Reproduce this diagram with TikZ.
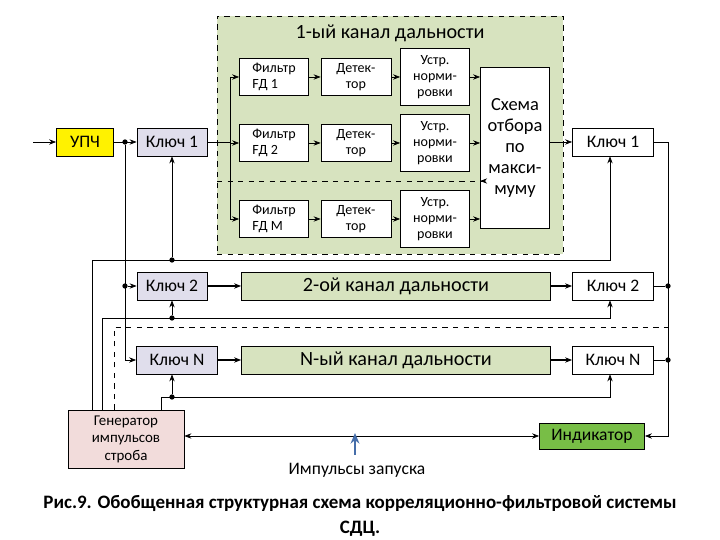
\documentclass[tikz,border=0pt]{standalone}
\usepackage{fontspec}
\setmainfont{Carlito}
\usetikzlibrary{arrows.meta, positioning, calc}
\definecolor{chan_green}{RGB}{215, 227, 191}
\definecolor{key_lilac}{RGB}{224, 222, 236}
\definecolor{gen_pink}{RGB}{242, 220, 219}
\definecolor{ind_green}{RGB}{120, 190, 70}
\definecolor{start_blue}{RGB}{70, 110, 170}

\begin{document}
\begin{tikzpicture}[x=0.02cm, y=-0.02cm,
    % Node styles
    blk/.style={
        rectangle,
        draw=black,
        fill=#1,
        thin,
        inner sep=1pt,
        align=center,
        font=\fontsize{10}{11}\selectfont
    },
    small/.style={
        blk=white,
        font=\fontsize{8}{9}\selectfont
    },
    arrow/.style={
        -{Stealth[length=4pt,width=3pt]},
        thin,
        #1
    },
    dot/.style={
        circle, fill=black, inner sep=0pt, minimum size=3pt
    }
]
\useasboundingbox (0,0) rectangle (720,540);

% first range channel
\node[draw, dashed, fill=chan_green, minimum width=6.92cm, minimum height=4.76cm] (chan1) at (390,135) {};
\node[font=\fontsize{11.5}{12}\selectfont] (title1) at (390,33) {1-ый канал дальности};
\draw[dashed] (217,181) coordinate (dl) -- (481,181) coordinate (dr);

\node[blk=yellow, minimum width=1.14cm, minimum height=0.56cm] (upch) at (85,142) {УПЧ};
\node[blk=key_lilac, minimum width=1.4cm, minimum height=0.56cm] (key1l) at (172,142) {Ключ 1};
\node[blk=key_lilac, minimum width=1.4cm, minimum height=0.56cm] (key2l) at (172,286) {Ключ 2};
\node[blk=key_lilac, minimum width=1.62cm, minimum height=0.56cm] (keyNl) at (177,360) {Ключ N};

\node[small, minimum width=1.38cm, minimum height=0.74cm, align=left] (fd1) at (274,77) {Фильтр\\FД 1};
\node[small, minimum width=1.38cm, minimum height=0.74cm, align=left] (fd2) at (274,143) {Фильтр\\FД 2};
\node[small, minimum width=1.38cm, minimum height=0.74cm, align=left] (fdm) at (274,219) {Фильтр\\FД M};
\node[small, minimum width=1.4cm, minimum height=0.74cm] (det1) at (356,77) {Детек-\\тор};
\node[small, minimum width=1.4cm, minimum height=0.74cm] (det2) at (356,143) {Детек-\\тор};
\node[small, minimum width=1.4cm, minimum height=0.74cm] (detm) at (356,219) {Детек-\\тор};
\node[small, minimum width=1.38cm, minimum height=1.14cm] (nrm1) at (435,77) {Устр.\\норми-\\ровки};
\node[small, minimum width=1.38cm, minimum height=1.14cm] (nrm2) at (435,143) {Устр.\\норми-\\ровки};
\node[small, minimum width=1.38cm, minimum height=1.14cm] (nrmm) at (435,219) {Устр.\\норми-\\ровки};
\node[blk=white, minimum width=1.38cm, minimum height=3.22cm, font=\fontsize{10.5}{12}\selectfont] (maxsel) at (515,148) {Схема\\отбора\\по\\макси-\\муму};

\node[blk=white, minimum width=1.62cm, minimum height=0.56cm] (key1r) at (613,142) {Ключ 1};
\node[blk=white, minimum width=1.62cm, minimum height=0.56cm] (key2r) at (613,286) {Ключ 2};
\node[blk=white, minimum width=1.62cm, minimum height=0.56cm] (keyNr) at (613,360) {Ключ N};

\node[blk=chan_green, minimum width=6.18cm, minimum height=0.56cm, font=\fontsize{11.5}{12}\selectfont] (chan2) at (396,286) {2-ой канал дальности};
\node[blk=chan_green, minimum width=6.18cm, minimum height=0.56cm, font=\fontsize{11.5}{12}\selectfont] (chanN) at (396,360) {N-ый канал дальности};

\node[blk=gen_pink, minimum width=2.32cm, minimum height=1.16cm, font=\fontsize{8.5}{10}\selectfont] (gen) at (126,439) {Генератор\\импульсов\\строба};
\node[blk=ind_green, minimum width=2.1cm, minimum height=0.52cm] (ind) at (592,436) {Индикатор};
\node[font=\fontsize{10}{11}\selectfont] (start) at (357,470) {Импульсы запуска};

% input chain
\coordinate (in) at (33,142);
\draw[arrow] (in) -- (upch);
\node[dot] (j1) at (125,142) {};
\draw[arrow] (upch) -- (key1l);
\coordinate (bus) at (230,142);
\draw (key1l) -- (bus);
\draw (230,77) -- (230,219);
\foreach \f in {fd1, fd2, fdm} {
    \draw[arrow] (230,0 |- \f) -- (\f);
}
\foreach \a/\b in {fd1/det1, fd2/det2, fdm/detm, det1/nrm1, det2/nrm2, detm/nrmm} {
    \draw[arrow] (\a) -- (\b);
}
\foreach \n in {nrm1, nrm2, nrmm} {
    \draw[arrow] (\n.east) -- (maxsel.west |- \n);
}
\draw[arrow, dashed] (dr) -- (maxsel.west |- dr);
\draw[arrow] (maxsel.east |- key1r) -- (key1r);

% other channels
\draw[arrow] (j1) |- (keyNl);
\node[dot] (j2) at (125,286) {};
\draw[arrow] (j2) -- (key2l);
\draw[arrow, thick] (key2l) -- (chan2);
\draw[arrow, thick] (chan2) -- (key2r);
\draw[arrow, thick] (keyNl) -- (chanN);
\draw[arrow, thick] (chanN) -- (keyNr);

% outputs to indicator
\draw[arrow] (key1r.east) -- (668,142) |- (ind.east);
\node[dot] (o2) at (668,286) {};
\node[dot] (o3) at (668,360) {};
\draw (key2r) -- (o2);
\draw (keyNr) -- (o3);

% strobe lines
\coordinate (r1) at (610,260);
\coordinate (r2) at (610,318);
\coordinate (r3) at (610,397);
\draw[arrow] (92,0 |- gen.north) |- (r1) -- (r1 |- key1r.south);
\node[dot] (s1) at (172,260) {};
\draw[arrow] (s1) -- (s1 |- key1l.south);
\draw[arrow] (102,0 |- gen.north) |- (r2) -- (r2 |- key2r.south);
\node[dot] (s2) at (172,318) {};
\draw[arrow] (s2) -- (s2 |- key2l.south);
\draw[arrow] (161,0 |- gen.north) |- (r3) -- (r3 |- keyNr.south);
\node[dot] (s3) at (172,397) {};
\draw[arrow] (s3) -- (s3 |- keyNl.south);
\draw[dashed] (114,0 |- gen.north) |- (668,327);

% start pulses
\draw[{Stealth[length=4pt,width=3pt]}-{Stealth[length=4pt,width=3pt]}] (gen.east |- ind) -- (ind);
\draw[-{Stealth[length=6pt,width=5pt]}, start_blue, line width=1.5pt] (start.north) ++(-2,-2) -- (355,433);

% caption
\node[font=\bfseries\fontsize{10.8}{14}\selectfont, align=center] (cap) at (360,516) {Рис.9. Обобщенная структурная схема корреляционно-фильтровой системы\\СДЦ.};
\end{tikzpicture}
\end{document}
